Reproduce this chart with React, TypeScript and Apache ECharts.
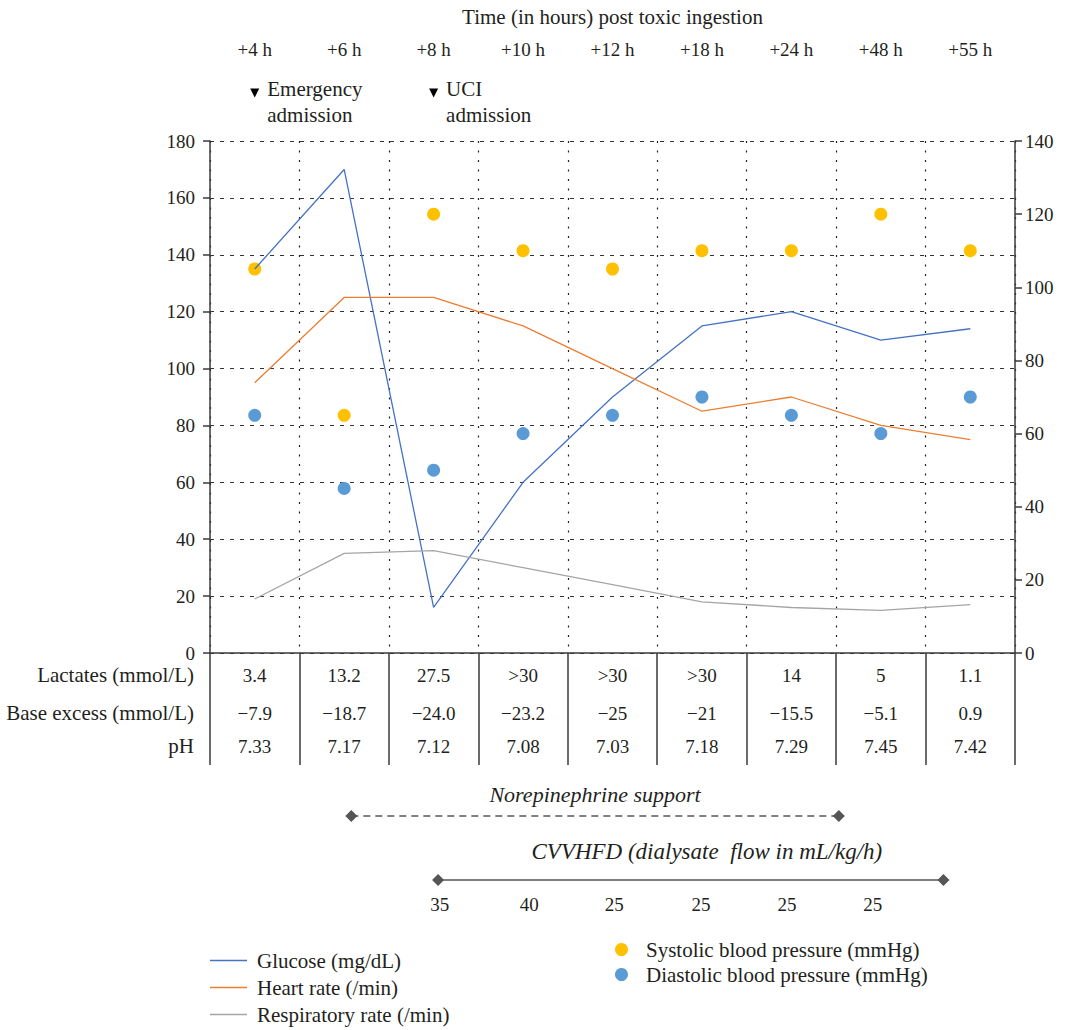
import React, { useEffect, useRef } from "react";
import * as echarts from "echarts";

const timePoints = ["+4 h", "+6 h", "+8 h", "+10 h", "+12 h", "+18 h", "+24 h", "+48 h", "+55 h"];
const glucose = [135, 170, 16, 60, 90, 115, 120, 110, 114];
const heartRate = [95, 125, 125, 115, 100, 85, 90, 80, 75];
const respiratoryRate = [19, 35, 36, 30, 24, 18, 16, 15, 17];
const systolic = [105, 65, 120, 110, 105, 110, 110, 120, 110];
const diastolic = [65, 45, 50, 60, 65, 70, 65, 60, 70];
const tableRowNames = ["Lactates (mmol/L)", "Base excess (mmol/L)", "pH"];
const lactates = ["3.4", "13.2", "27.5", ">30", ">30", ">30", "14", "5", "1.1"];
const baseExcess = ["−7.9", "−18.7", "−24.0", "−23.2", "−25", "−21", "−15.5", "−5.1", "0.9"];
const pH = ["7.33", "7.17", "7.12", "7.08", "7.03", "7.18", "7.29", "7.45", "7.42"];
const events = [
  { index: 0, label: "Emergency\nadmission" },
  { index: 2, label: "UCI\nadmission" },
];
const norepinephrine = { label: "Norepinephrine support", start: 1.58, end: 7.03 };
const cvvhfd = { label: "CVVHFD (dialysate  flow in mL/kg/h)", start: 2.55, end: 8.2 };
const cvvhfdFlowAt = [2.57, 3.57, 4.52, 5.49, 6.45, 7.41];
const cvvhfdFlow = ["35", "40", "25", "25", "25", "25"];

const FONT = "Liberation Serif";
const TXT = "#231f20";
const AX = "#3a3a3a";
const WORD = 21;
const NUM = 19;
const ROW_OFFSETS = [22, 60, 93];

export default function App() {
  const ref = useRef<HTMLDivElement>(null);
  useEffect(() => {
    const chart = echarts.init(ref.current!, null, { renderer: "svg" });
    const tableAxis = (data: string[], offset: number) => ({
      type: "category",
      gridIndex: 0,
      position: "bottom",
      offset,
      data,
      boundaryGap: true,
      axisLine: { show: false, onZero: false },
      axisTick: { show: false },
      splitLine: { show: false },
      axisLabel: { show: true, margin: 0, verticalAlign: "middle", fontSize: NUM, color: TXT, fontFamily: FONT, interval: 0 },
    });
    const option: any = {
      animation: false,
      textStyle: { fontFamily: FONT, color: TXT },
      grid: [
        { left: 210, right: 55, top: 141, height: 512 },
        { left: 210, right: 55, top: 770, height: 140 },
        { left: 210, right: 55, top: 75, height: 60 },
      ],
      graphic: tableRowNames.map((name, i) => ({
        type: "text",
        right: 1070 - 194,
        top: 653 + ROW_OFFSETS[i] - 12,
        style: { text: name, fontSize: WORD, fontFamily: FONT, fill: TXT, align: "right", verticalAlign: "top", lineHeight: 24 },
        silent: true,
      })),
      xAxis: [
        {
          type: "category",
          gridIndex: 0,
          position: "bottom",
          data: timePoints,
          boundaryGap: true,
          axisLine: { lineStyle: { color: AX, width: 1.5 } },
          axisTick: { show: true, length: 112, lineStyle: { color: AX, width: 1.5 } },
          axisLabel: { show: false },
          splitLine: { show: true, lineStyle: { type: [2, 7.5], color: "#222", width: 1.2 } },
        },
        tableAxis(lactates, ROW_OFFSETS[0]),
        tableAxis(baseExcess, ROW_OFFSETS[1]),
        tableAxis(pH, ROW_OFFSETS[2]),
        {
          type: "category",
          gridIndex: 0,
          position: "top",
          offset: 92,
          data: timePoints,
          boundaryGap: true,
          axisLine: { show: false, onZero: false },
          axisTick: { show: false },
          splitLine: { show: false },
          axisLabel: { margin: 0, verticalAlign: "middle", fontSize: NUM, color: TXT, fontFamily: FONT, interval: 0 },
          name: "Time (in hours) post toxic ingestion",
          nameLocation: "middle",
          nameGap: 32,
          nameTextStyle: { fontSize: WORD, color: TXT, fontFamily: FONT, verticalAlign: "middle" },
        },
        { type: "value", gridIndex: 1, min: 0, max: 9, show: false },
        { type: "value", gridIndex: 2, min: 0, max: 9, show: false },
      ],
      yAxis: [
        {
          type: "value",
          gridIndex: 0,
          position: "left",
          min: 0,
          max: 180,
          interval: 20,
          axisLine: { show: true, lineStyle: { color: AX, width: 1.5 } },
          axisTick: { show: true, length: 7, lineStyle: { color: AX, width: 1.5 } },
          axisLabel: { fontSize: NUM, color: TXT, fontFamily: FONT, margin: 15 },
          splitLine: { show: true, lineStyle: { type: [4, 6], color: "#333", width: 1 } },
        },
        {
          type: "value",
          gridIndex: 0,
          position: "right",
          min: 0,
          max: 140,
          interval: 20,
          axisLine: { show: true, lineStyle: { color: AX, width: 1.5 } },
          axisTick: { show: true, length: 7, lineStyle: { color: AX, width: 1.5 } },
          axisLabel: { fontSize: NUM, color: TXT, fontFamily: FONT, margin: 10 },
          splitLine: { show: false },
        },
        { type: "value", gridIndex: 1, min: 0, max: 140, inverse: true, show: false },
        { type: "value", gridIndex: 2, min: 0, max: 60, inverse: true, show: false },
      ],
      legend: [
        {
          data: ["Glucose (mg/dL)", "Heart rate (/min)", "Respiratory rate (/min)"],
          orient: "vertical",
          left: 210,
          top: 950,
          padding: 0,
          icon: "rect",
          itemWidth: 37,
          itemHeight: 1.6,
          itemGap: 6,
          textStyle: { fontSize: WORD, lineHeight: 21, color: TXT, fontFamily: FONT, padding: [0, 0, 0, 5] },
        },
        {
          data: ["Systolic blood pressure (mmHg)", "Diastolic blood pressure (mmHg)"],
          orient: "vertical",
          left: 615,
          top: 939,
          padding: 0,
          icon: "circle",
          itemWidth: 13,
          itemHeight: 13,
          itemGap: 4,
          textStyle: { fontSize: WORD, lineHeight: 21, color: TXT, fontFamily: FONT, padding: [0, 0, 0, 13] },
        },
      ],
      series: [
        {
          name: "Glucose (mg/dL)",
          type: "line",
          xAxisIndex: 0,
          yAxisIndex: 0,
          data: glucose,
          symbol: "none",
          lineStyle: { color: "#4472C4", width: 1.3 },
          itemStyle: { color: "#4472C4" },
        },
        {
          name: "Heart rate (/min)",
          type: "line",
          xAxisIndex: 0,
          yAxisIndex: 0,
          data: heartRate,
          symbol: "none",
          lineStyle: { color: "#ED7D31", width: 1.3 },
          itemStyle: { color: "#ED7D31" },
        },
        {
          name: "Respiratory rate (/min)",
          type: "line",
          xAxisIndex: 0,
          yAxisIndex: 0,
          data: respiratoryRate,
          symbol: "none",
          lineStyle: { color: "#A5A5A5", width: 1.3 },
          itemStyle: { color: "#A5A5A5" },
        },
        {
          name: "Systolic blood pressure (mmHg)",
          type: "scatter",
          xAxisIndex: 0,
          yAxisIndex: 1,
          data: systolic,
          symbolSize: 13,
          itemStyle: { color: "#FFC000", opacity: 1 },
        },
        {
          name: "Diastolic blood pressure (mmHg)",
          type: "scatter",
          xAxisIndex: 0,
          yAxisIndex: 1,
          data: diastolic,
          symbolSize: 13,
          itemStyle: { color: "#5B9BD5", opacity: 1 },
        },
        {
          type: "line",
          xAxisIndex: 5,
          yAxisIndex: 2,
          data: [[norepinephrine.start, 46], [norepinephrine.end, 46]],
          symbol: "diamond",
          symbolSize: 12,
          lineStyle: { color: "#555", width: 1.3, type: [7, 5] },
          itemStyle: { color: "#555" },
          silent: true,
        },
        {
          type: "line",
          xAxisIndex: 5,
          yAxisIndex: 2,
          data: [[cvvhfd.start, 110], [cvvhfd.end, 110]],
          symbol: "diamond",
          symbolSize: 12,
          lineStyle: { color: "#555", width: 1.6 },
          itemStyle: { color: "#555" },
          silent: true,
        },
        {
          type: "scatter",
          xAxisIndex: 5,
          yAxisIndex: 2,
          symbolSize: 0,
          itemStyle: { opacity: 1 },
          data: [
            { value: [(norepinephrine.start + norepinephrine.end) / 2, 24], name: norepinephrine.label, fs: 22 },
            { value: [(cvvhfd.start + cvvhfd.end) / 2 + 0.18, 81], name: cvvhfd.label, fs: 23 },
          ].map((d) => ({ value: d.value, name: d.name, label: { fontSize: d.fs } })),
          label: {
            show: true,
            position: "inside",
            formatter: (p: any) => p.name,
            fontSize: 22,
            fontStyle: "italic",
            color: TXT,
            fontFamily: FONT,
          },
          silent: true,
        },
        {
          type: "scatter",
          xAxisIndex: 5,
          yAxisIndex: 2,
          symbolSize: 0,
          itemStyle: { opacity: 1 },
          data: cvvhfdFlow.map((v, i) => ({ value: [cvvhfdFlowAt[i], 134], name: v })),
          label: {
            show: true,
            position: "inside",
            formatter: (p: any) => p.name,
            fontSize: NUM,
            color: TXT,
            fontFamily: FONT,
          },
          silent: true,
        },
        {
          type: "scatter",
          xAxisIndex: 6,
          yAxisIndex: 3,
          symbol: "triangle",
          symbolRotate: 180,
          symbolSize: [9, 9],
          itemStyle: { color: "#000", opacity: 1 },
          data: events.map((e) => ({ value: [e.index + 0.5, 18], name: e.label })),
          label: {
            show: true,
            position: "right",
            distance: 8,
            offset: [0, 9],
            align: "left",
            lineHeight: 26,
            formatter: (p: any) => p.name,
            fontSize: WORD,
            color: TXT,
            fontFamily: FONT,
          },
          silent: true,
        },
      ],
    };
    chart.setOption(option);
    return () => chart.dispose();
  }, []);
  return <div ref={ref} style={{ position: "fixed", left: 0, top: 0, width: 1070, height: 1030, background: "#fff" }} />;
}
